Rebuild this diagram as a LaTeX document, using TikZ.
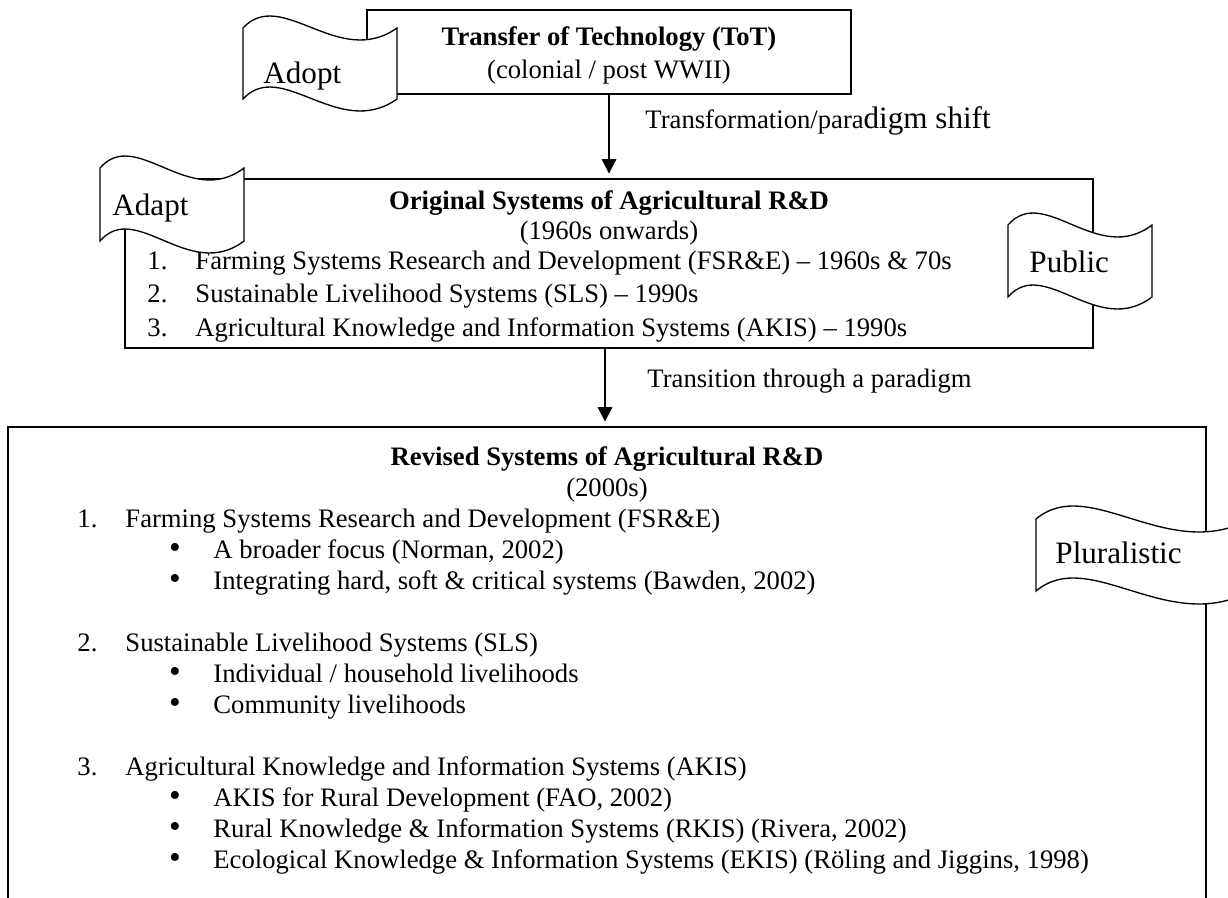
\documentclass[tikz,border=0pt]{standalone}
\usepackage{fontspec}
\setmainfont{Liberation Serif}
\usetikzlibrary{arrows.meta}
\usetikzlibrary{fit}

\begin{document}
\begin{tikzpicture}[x=0.45pt, y=-0.45pt,
        box_style/.style={draw=black, line width=0.9pt, inner sep=0pt},
        tape_style/.style={draw=black, line width=0.6pt, fill=white},
        arrow_style/.style={draw=black, line width=0.8pt, -{Triangle[width=6.5pt,length=6.5pt]}, shorten >=2pt},
        text_style/.style={inner sep=0pt, font=\fontsize{12}{14}\selectfont},
        title_style/.style={inner sep=0pt, anchor=base, font=\fontsize{12}{14}\selectfont\bfseries},
        bullet_style/.style={inner sep=0pt, anchor=base, font=\fontsize{15}{16}\selectfont},
        tape_text_style/.style={inner sep=0pt, anchor=base west, font=\fontsize{14}{16}\selectfont}]

        \useasboundingbox (0,0) rectangle (1228,897);
        \clip (0,0) rectangle (1228,897);

        % boxes
        \node [box_style, fit={(367,10) (851,94)}] (tot) {};
        \node [box_style, fit={(125,179) (1093,348)}] (orig) {};
        \node [box_style, fit={(8,427) (1206,940)}] (revised) {};

        % arrows
        \draw [arrow_style] (tot.south) -- (orig.north);
        \draw [arrow_style] ([xshift=-1.8pt]orig.south) -- ([xshift=-1.8pt]orig.south |- revised.north);
        \node [text_style, anchor=base west] (shift_label) at (645,128) {Transformation/para{\fontsize{14}{16}\selectfont digm shift}};
        \node [text_style, anchor=base west] (transition_label) at (647,387) {Transition through a paradigm};

        % ToT
        \node [title_style] (tot_title) at (609,45) {Transfer of Technology (ToT)};
        \node [text_style, anchor=base] (tot_sub) at (609,78) {(colonial / post WWII)};

        % original systems
        \node [title_style] (orig_title) at (609,209) {Original Systems of Agricultural R\&D};
        \node [text_style, anchor=base] (orig_sub) at (609,239) {(1960s onwards)};
        \node [text_style, anchor=base west] (orig_n1) at (147,269) {1.};
        \node [text_style, anchor=base west] (orig_i1) at (195,269) {Farming Systems Research and Development (FSR\&E) – 1960s \& 70s};
        \node [text_style, anchor=base west] (orig_n2) at (147,302) {2.};
        \node [text_style, anchor=base west] (orig_i2) at (195,302) {Sustainable Livelihood Systems (SLS) – 1990s};
        \node [text_style, anchor=base west] (orig_n3) at (147,336) {3.};
        \node [text_style, anchor=base west] (orig_i3) at (195,336) {Agricultural Knowledge and Information Systems (AKIS) – 1990s};

        % revised systems
        \node [title_style] (rev_title) at (607,465) {Revised Systems of Agricultural R\&D};
        \node [text_style, anchor=base] (rev_sub) at (607,496) {(2000s)};
        \node [text_style, anchor=base west] (rev_n1) at (77,527) {1.};
        \node [text_style, anchor=base west] (rev_i1) at (125,527) {Farming Systems Research and Development (FSR\&E)};
        \node [bullet_style] (rev_b1a) at (175,558) {•};
        \node [text_style, anchor=base west] (rev_i1a) at (213,558) {A broader focus (Norman, 2002)};
        \node [bullet_style] (rev_b1b) at (175,589) {•};
        \node [text_style, anchor=base west] (rev_i1b) at (213,589) {Integrating hard, soft \& critical systems (Bawden, 2002)};
        \node [text_style, anchor=base west] (rev_n2) at (77,651) {2.};
        \node [text_style, anchor=base west] (rev_i2) at (125,651) {Sustainable Livelihood Systems (SLS)};
        \node [bullet_style] (rev_b2a) at (175,682) {•};
        \node [text_style, anchor=base west] (rev_i2a) at (213,682) {Individual / household livelihoods};
        \node [bullet_style] (rev_b2b) at (175,713) {•};
        \node [text_style, anchor=base west] (rev_i2b) at (213,713) {Community livelihoods};
        \node [text_style, anchor=base west] (rev_n3) at (77,775) {3.};
        \node [text_style, anchor=base west] (rev_i3) at (125,775) {Agricultural Knowledge and Information Systems (AKIS)};
        \node [bullet_style] (rev_b3a) at (175,806) {•};
        \node [text_style, anchor=base west] (rev_i3a) at (213,806) {AKIS for Rural Development (FAO, 2002)};
        \node [bullet_style] (rev_b3b) at (175,837) {•};
        \node [text_style, anchor=base west] (rev_i3b) at (213,837) {Rural Knowledge \& Information Systems (RKIS) (Rivera, 2002)};
        \node [bullet_style] (rev_b3c) at (175,868) {•};
        \node [text_style, anchor=base west] (rev_i3c) at (213,868) {Ecological Knowledge \& Information Systems (EKIS) (Röling and Jiggins, 1998)};

        % wave tapes
        \draw [tape_style] (243,28) .. controls (281.5,-13.5) and (338.5,69.5) .. (397,28) -- (397,99) .. controls (338.5,140.5) and (281.5,57.5) .. (243,99) -- cycle;
        \draw [tape_style] (100,168) .. controls (136,126.5) and (189.3,209.5) .. (244,168) -- (244,241) .. controls (189.3,282.5) and (136,199.5) .. (100,241) -- cycle;
        \draw [tape_style] (1008,225) .. controls (1044,183.5) and (1097.3,266.5) .. (1152,225) -- (1152,297) .. controls (1097.3,338.5) and (1044,255.5) .. (1008,297) -- cycle;
        \draw [tape_style] (1036,519) .. controls (1089.5,474) and (1168.7,564) .. (1250,519) -- (1250,591) .. controls (1168.7,636) and (1089.5,546) .. (1036,591) -- cycle;
        \node [tape_text_style] (adopt) at (263,83) {Adopt};
        \node [tape_text_style] (adapt) at (112,215) {Adapt};
        \node [tape_text_style] (public) at (1029,272) {Public};
        \node [tape_text_style] (pluralistic) at (1055,563) {Pluralistic};
\end{tikzpicture}
\end{document}
